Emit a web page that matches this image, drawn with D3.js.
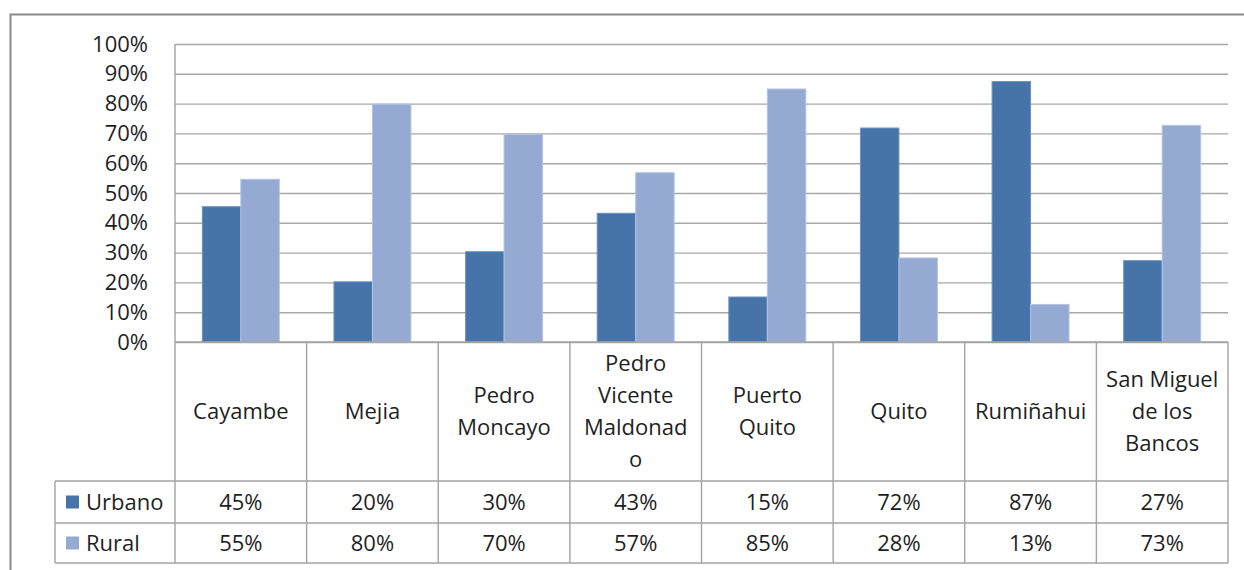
<!DOCTYPE html>
<html>
<head>
<meta charset="utf-8">
<script src="https://cdn.jsdelivr.net/npm/d3@7"></script>
<style>
  body { margin: 0; background: #fff; }
  text { font-family: "Open Sans", "Liberation Sans", sans-serif; fill: #1f1f1f; }
</style>
</head>
<body>
<div id="chart"></div>
<script>
// data
var categories = ["Cayambe", "Mejia", "Pedro Moncayo", "Pedro Vicente Maldonado",
  "Puerto Quito", "Quito", "Rumiñahui", "San Miguel de los Bancos"];
// how the category names wrap inside the table cells
var categoryLines = [["Cayambe"], ["Mejia"], ["Pedro", "Moncayo"],
  ["Pedro", "Vicente", "Maldonad", "o"], ["Puerto", "Quito"], ["Quito"],
  ["Rumiñahui"], ["San Miguel", "de los", "Bancos"]];
var seriesNames = ["Urbano", "Rural"];
var urbano = [0.454, 0.202, 0.303, 0.432, 0.151, 0.718, 0.874, 0.273];
var rural  = [0.546, 0.798, 0.697, 0.568, 0.849, 0.282, 0.126, 0.727];
var yTicks = [0, 0.1, 0.2, 0.3, 0.4, 0.5, 0.6, 0.7, 0.8, 0.9, 1];
var colors = ["#4674a8", "#95aad2"];

var svgWidth = 1244, svgHeight = 570;
var plot = { left: 175, right: 1228, top: 44, bottom: 342 };
var rowCat = 481, rowU = 523, rowR = 563;   // bottom edges of table rows
var tableLeft = 55;

var svg = d3.select("#chart").append("svg")
  .attr("width", svgWidth)
  .attr("height", svgHeight);

// outer frame (runs off right and bottom edges)
svg.append("rect")
  .attr("x", 10.5).attr("y", 14.5)
  .attr("width", 1260).attr("height", 600)
  .attr("fill", "none")
  .attr("stroke", "#8a8a8a")
  .attr("stroke-width", 2);

// scales
var xScale = d3.scaleBand()
  .domain(categories)
  .range([plot.left, plot.right])
  .padding(0);

var xSub = d3.scaleBand()
  .domain(seriesNames)
  .range([0, xScale.bandwidth()])
  .paddingInner(0)
  .paddingOuter(0.71);

var yScale = d3.scaleLinear()
  .domain([0, 1])
  .range([plot.bottom, plot.top]);

// gridlines
svg.append("g")
  .attr("transform", `translate(${plot.left},0)`)
  .call(d3.axisLeft(yScale).tickValues(yTicks)
    .tickSize(-(plot.right - plot.left)).tickFormat(""))
  .call(g => g.select(".domain").remove())
  .call(g => g.selectAll("line").attr("stroke", "#a8a8a8").attr("stroke-width", 1.4));

// tick labels
svg.append("g")
  .attr("transform", `translate(${plot.left},0)`)
  .call(d3.axisLeft(yScale).tickValues(yTicks).tickSize(0).tickPadding(27)
    .tickFormat(d3.format(".0%")))
  .call(g => g.select(".domain").remove())
  .call(g => g.selectAll("text")
    .attr("font-size", 22)
    .attr("fill", "#1f1f1f")
    .style("font-family", "'Open Sans', sans-serif"));

// bars
var rows = categories.map((c, i) => ({ cat: c, values: [urbano[i], rural[i]] }));

var groups = svg.selectAll(".grp")
  .data(rows).enter()
  .append("g")
  .attr("class", "grp")
  .attr("transform", d => `translate(${xScale(d.cat)},0)`);

groups.selectAll("rect")
  .data(d => d.values.map((v, j) => ({ s: seriesNames[j], v: v, j: j })))
  .enter().append("rect")
  .attr("x", d => xSub(d.s))
  .attr("width", xSub.bandwidth())
  .attr("y", d => yScale(d.v))
  .attr("height", d => yScale(0) - yScale(d.v))
  .attr("fill", d => colors[d.j])
  .attr("stroke", d => d.j === 0 ? "#6d92c2" : "#b4c4e2")
  .attr("stroke-width", 1);

// data table lines
var lineColor = "#a3a3a3";
var tbl = svg.append("g").attr("stroke", lineColor).attr("stroke-width", 1.4);

tbl.append("line")
  .attr("x1", plot.left).attr("x2", plot.right)
  .attr("y1", plot.bottom).attr("y2", plot.bottom);
[rowCat, rowU, rowR].forEach(y => {
  tbl.append("line")
    .attr("x1", tableLeft).attr("x2", plot.right)
    .attr("y1", y).attr("y2", y);
});
// vertical lines at band edges
var edges = categories.map(c => xScale(c)).concat([plot.right]);
edges.forEach((x, i) => {
  tbl.append("line")
    .attr("x1", x).attr("x2", x)
    .attr("y1", i === 0 ? plot.top : plot.bottom).attr("y2", rowR);
});
tbl.append("line")
  .attr("x1", tableLeft).attr("x2", tableLeft)
  .attr("y1", rowCat).attr("y2", rowR);

// category labels
var lineH = 32;
var catMid = (plot.bottom + rowCat) / 2;
categoryLines.forEach((lines, i) => {
  var cx = xScale(categories[i]) + xScale.bandwidth() / 2;
  var y0 = catMid - (lines.length - 1) * lineH / 2;
  var t = svg.append("text")
    .attr("text-anchor", "middle")
    .attr("font-size", 22);
  lines.forEach((ln, k) => {
    t.append("tspan")
      .attr("x", cx)
      .attr("y", y0 + k * lineH)
      .attr("dy", "0.35em")
      .text(ln);
  });
});

// series rows
var seriesData = [urbano, rural];
var rowMids = [(rowCat + rowU) / 2, (rowU + rowR) / 2];
seriesNames.forEach((name, j) => {
  svg.append("rect")
    .attr("x", 66).attr("y", rowMids[j] - 6.5)
    .attr("width", 13).attr("height", 13)
    .attr("fill", colors[j]);
  svg.append("text")
    .attr("x", 86).attr("y", rowMids[j])
    .attr("dy", "0.35em")
    .attr("font-size", 22)
    .text(name);
  seriesData[j].forEach((v, i) => {
    svg.append("text")
      .attr("x", xScale(categories[i]) + xScale.bandwidth() / 2)
      .attr("y", rowMids[j])
      .attr("dy", "0.35em")
      .attr("text-anchor", "middle")
      .attr("font-size", 22)
      .text(d3.format(".0%")(v));
  });
});
</script>
</body>
</html>
